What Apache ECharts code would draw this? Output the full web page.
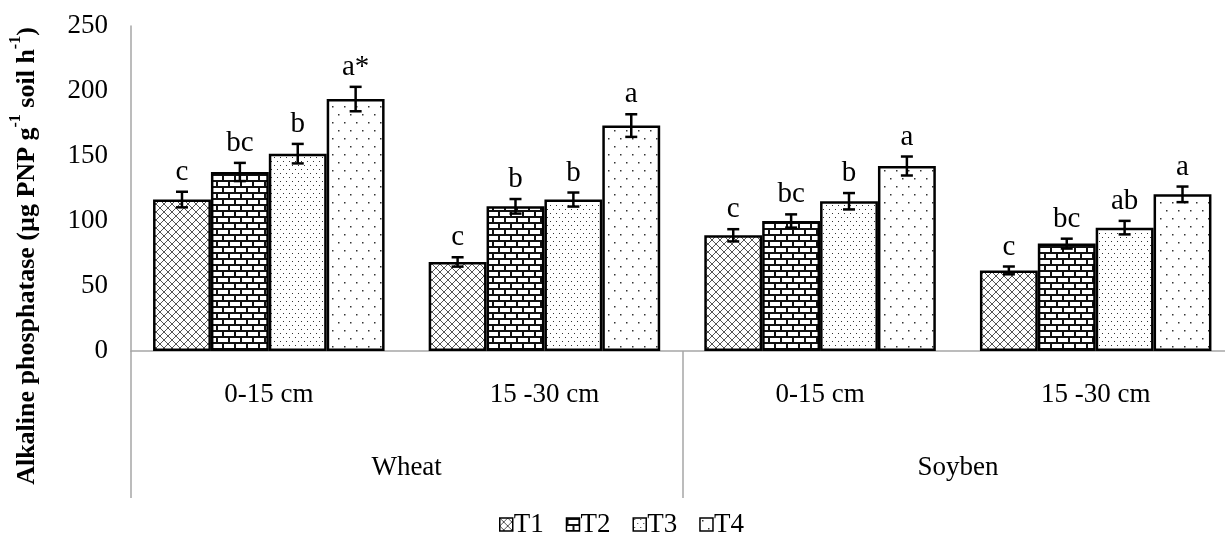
<!DOCTYPE html>
<html>
<head>
<meta charset="utf-8">
<script src="https://cdn.jsdelivr.net/npm/echarts@6/dist/echarts.min.js"></script>
<style>html,body{margin:0;padding:0;background:#fff;overflow:hidden;}#c{width:1240px;height:537px;}</style>
</head>
<body>
<div id="c"></div>
<script>
// ---- data ----
const depths = ['0-15 cm', '15 -30 cm', '0-15 cm', '15 -30 cm'];
const crops = ['Wheat', 'Soyben'];
const treatments = ['T1', 'T2', 'T3', 'T4'];
const T1 = [116.5, 68.5, 89.0, 62.0];
const T2 = [137.7, 111.3, 100.0, 82.6];
const T3 = [151.8, 116.5, 115.2, 94.9];
const T4 = [193.8, 173.4, 142.3, 120.5];
const E1 = [6.0, 3.6, 4.7, 3.0];
const E2 = [7.0, 5.6, 5.1, 3.8];
const E3 = [7.5, 5.4, 6.3, 5.2];
const E4 = [9.4, 8.7, 7.3, 6.0];
const L1 = ['c', 'c', 'c', 'c'];
const L2 = ['bc', 'b', 'bc', 'bc'];
const L3 = ['b', 'b', 'b', 'ab'];
const L4 = ['a*', 'a', 'a', 'a'];
const yTicks = [0, 50, 100, 150, 200, 250];

const values = [T1, T2, T3, T4];
const errors = [E1, E2, E3, E4];
const letters = [L1, L2, L3, L4];

// ---- patterns ----
function mk(w, h, draw) {
  const c = document.createElement('canvas');
  c.width = w; c.height = h;
  const g = c.getContext('2d');
  g.fillStyle = '#fff'; g.fillRect(0, 0, w, h);
  draw(g);
  return { image: c, repeat: 'repeat' };
}
const patterns = [
  mk(8, 8, g => {
    g.strokeStyle = '#555'; g.lineWidth = 1;
    g.beginPath(); g.moveTo(-1, -1); g.lineTo(9, 9); g.moveTo(9, -1); g.lineTo(-1, 9); g.stroke();
  }),
  mk(12, 12, g => {
    g.fillStyle = '#111';
    g.fillRect(0, 0, 12, 2); g.fillRect(0, 6, 12, 2);
    g.fillRect(0, 0, 2, 6); g.fillRect(6, 6, 2, 6);
  }),
  mk(6, 8, g => {
    g.fillStyle = '#333';
    g.fillRect(1, 1, 1, 1); g.fillRect(4, 5, 1, 1);
  }),
  mk(12, 16, g => {
    g.fillStyle = '#333';
    g.fillRect(2, 2, 1.5, 1.5); g.fillRect(8, 10, 1.5, 1.5);
  })
];

const FONT = 'Liberation Serif';
const GAP = 0.16;
const axisGray = '#a6a6a6';

const series = [];
treatments.forEach((t, k) => {
  series.push({
    name: t, type: 'bar', xAxisIndex: 0, yAxisIndex: 0,
    barGap: '0%', barCategoryGap: (GAP * 100) + '%',
    itemStyle: { color: patterns[k], borderColor: '#000', borderWidth: 2.5 },
    data: values[k]
  });
});
treatments.forEach((t, k) => {
  series.push({
    name: t + ' err', type: 'custom', xAxisIndex: 0, yAxisIndex: 0, z: 5,
    data: values[k].map((v, i) => [i, v, errors[k][i]]),
    renderItem: function (params, api) {
      const ci = api.value(0), v = api.value(1), e = api.value(2);
      const top = api.coord([ci, v + e]);
      const bot = api.coord([ci, v - e]);
      const catW = api.size([1, 0])[0];
      const barW = catW * (1 - GAP) / 4;
      const x = top[0] + (k - 1.5) * barW;
      const cap = 6;
      const ls = { stroke: '#000', lineWidth: 2.5 };
      return {
        type: 'group',
        children: [
          { type: 'line', shape: { x1: x, y1: top[1], x2: x, y2: bot[1] }, style: ls },
          { type: 'line', shape: { x1: x - cap, y1: top[1], x2: x + cap, y2: top[1] }, style: ls },
          { type: 'line', shape: { x1: x - cap, y1: bot[1], x2: x + cap, y2: bot[1] }, style: ls },
          { type: 'text', x: x, y: top[1] - 5,
            style: { text: letters[k][params.dataIndex], fill: '#000', font: '29px "' + FONT + '"',
                     textAlign: 'center', textVerticalAlign: 'bottom' } }
        ]
      };
    }
  });
});

const option = {
  animation: false,
  backgroundColor: '#fff',
  grid: { left: 131, top: 26, right: 6.5, bottom: 186, containLabel: false },
  legend: {
    data: treatments, left: 494, top: 506, icon: 'rect',
    itemWidth: 13, itemHeight: 13, itemGap: 22,
    itemStyle: { borderWidth: 1.5 },
    textStyle: { fontFamily: FONT, fontSize: 27, color: '#000', padding: [0, 0, 0, -4] }
  },
  xAxis: [
    {
      type: 'category', data: depths, position: 'bottom',
      axisLine: { show: true, lineStyle: { color: axisGray, width: 1.5 } },
      axisTick: { show: false },
      axisLabel: { margin: 30, fontFamily: FONT, fontSize: 27, color: '#000' }
    },
    {
      type: 'category', data: crops, position: 'bottom', gridIndex: 0,
      axisLine: { show: false },
      axisTick: { show: true, length: 147, lineStyle: { color: axisGray, width: 1.5 } },
      axisLabel: { margin: 103, fontFamily: FONT, fontSize: 27, color: '#000' }
    }
  ],
  yAxis: {
    type: 'value', min: yTicks[0], max: yTicks[yTicks.length - 1], interval: 50,
    axisLine: { show: true, lineStyle: { color: axisGray, width: 1.5 } },
    axisTick: { show: false },
    splitLine: { show: false },
    axisLabel: { margin: 23, fontFamily: FONT, fontSize: 27, color: '#000' }
  },
  graphic: [{
    type: 'text', x: 24, y: 256, rotation: Math.PI / 2,
    style: {
      text: '{b|Alkaline phosphatase (µg PNP g}{s|-1}{b| soil h}{s|-1}{b|)}',
      textAlign: 'center', textVerticalAlign: 'middle', fill: '#000',
      rich: {
        b: { fontFamily: FONT, fontWeight: 'bold', fontSize: 26, fill: '#000', verticalAlign: 'bottom', lineHeight: 32 },
        s: { fontFamily: FONT, fontWeight: 'bold', fontSize: 16, fill: '#000', verticalAlign: 'top', lineHeight: 32 }
      }
    }
  }],
  series: series
};

const chart = echarts.init(document.getElementById('c'), null, { renderer: 'canvas' });
chart.setOption(option);
</script>
</body>
</html>
